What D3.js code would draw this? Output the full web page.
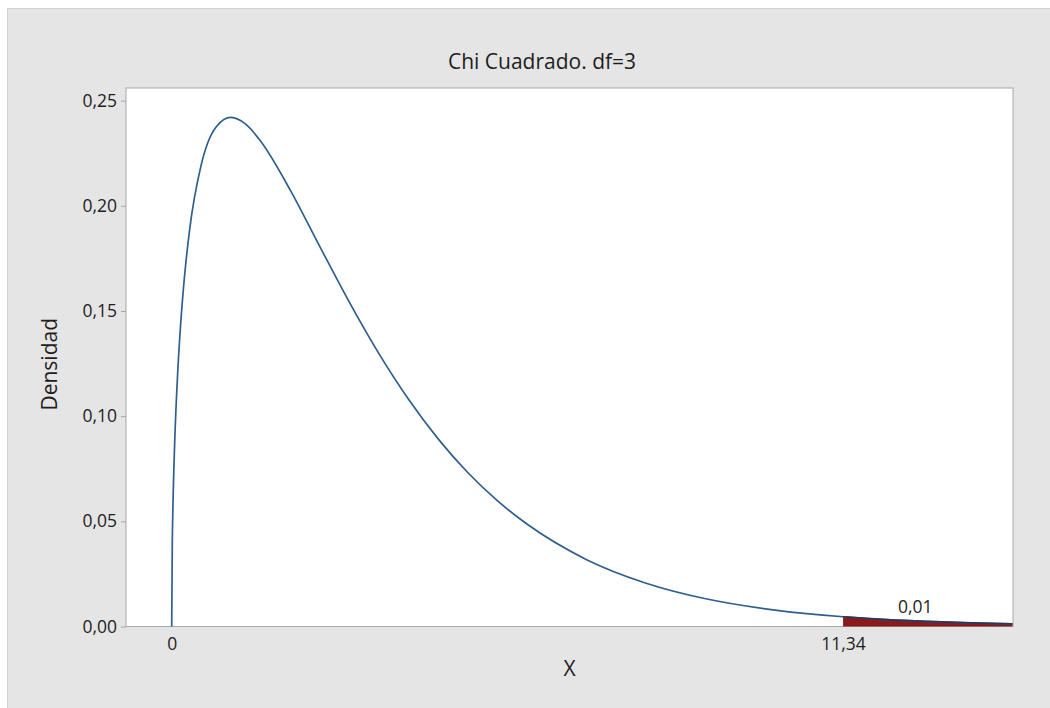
<!DOCTYPE html>
<html>
<head>
<meta charset="utf-8">
<script src="https://cdn.jsdelivr.net/npm/d3@7"></script>
<style>
  body { margin: 0; background: #fff; }
  text { font-family: "Open Sans", sans-serif; fill: #1e1e1e; }
</style>
</head>
<body>
<div id="chart"></div>
<script>
// values
const xValues = [0, 0.01, 0.02, 0.05, 0.1, 0.15, 0.2, 0.3, 0.5, 0.75, 1, 1.25, 1.5, 2, 2.5, 3, 3.5, 4, 4.5, 5, 5.5, 6, 7, 8, 9, 10, 11, 11.34, 12, 13, 14.2];
const density = [0, 0.0397, 0.0559, 0.087, 0.12, 0.1433, 0.1614, 0.1881, 0.2197, 0.2375, 0.242, 0.2388, 0.2308, 0.2076, 0.1807, 0.1542, 0.1297, 0.108, 0.0892, 0.0732, 0.0598, 0.0487, 0.0319, 0.0207, 0.0133, 0.0085, 0.0054, 0.00463, 0.00343, 0.00216, 0.00124];
const yTicks = [0, 0.05, 0.10, 0.15, 0.20, 0.25];
const xTicks = [0, 11.34];
const critical = 11.34;
const tailLabel = "0,01";

const W = 1050, H = 708;
const MARGIN = { TOP: 88, BOTTOM: 81.5, LEFT: 126, RIGHT: 37 };
const WIDTH = W - MARGIN.LEFT - MARGIN.RIGHT;
const HEIGHT = H - MARGIN.TOP - MARGIN.BOTTOM;

const comma = v => d3.format(".2f")(v).replace(".", ",");

const svg = d3.select("#chart").append("svg")
    .attr("width", W)
    .attr("height", H);

// gray panel
svg.append("rect")
    .attr("x", 7.5).attr("y", 8.5)
    .attr("width", W).attr("height", H)
    .attr("fill", "#e5e5e5")
    .attr("stroke", "#d2d2d2");

const g = svg.append("g")
    .attr("transform", `translate(${MARGIN.LEFT}, ${MARGIN.TOP})`);

const x = d3.scaleLinear().domain([-0.772, 14.21]).range([0, WIDTH]);
const y = d3.scaleLinear().domain([0, 0.256]).range([HEIGHT, 0]);

g.append("rect")
    .attr("width", WIDTH).attr("height", HEIGHT)
    .attr("fill", "#fff")
    .attr("stroke", "#a8a8a8");

const data = xValues.map((v, i) => [v, density[i]]);

// shaded tail
const tail = data.filter(d => d[0] >= critical);
const area = d3.area()
    .x(d => x(d[0]))
    .y0(HEIGHT)
    .y1(d => y(d[1]))
    .curve(d3.curveMonotoneX);
g.append("path")
    .datum(tail)
    .attr("d", area)
    .attr("fill", "#8b1a1a");

// curve
const line = d3.line()
    .x(d => x(d[0]))
    .y(d => y(d[1]))
    .curve(d3.curveMonotoneX);
g.append("path")
    .datum(data)
    .attr("d", line)
    .attr("fill", "none")
    .attr("stroke", "#2f5f8f")
    .attr("stroke-width", 1.7);

g.append("path")
    .datum(tail)
    .attr("d", line)
    .attr("fill", "none")
    .attr("stroke", "#2b3555")
    .attr("stroke-width", 1.7);

// axes
const yAxis = g.append("g")
    .call(d3.axisLeft(y).tickValues(yTicks).tickSize(5).tickPadding(4).tickFormat(comma));
yAxis.select(".domain").remove();
yAxis.selectAll("line").attr("stroke", "#a8a8a8");
yAxis.selectAll("text").style("font-size", "17.5px").attr("fill", "#1e1e1e");

const xAxis = g.append("g")
    .attr("transform", `translate(0, ${HEIGHT})`)
    .call(d3.axisBottom(x).tickValues(xTicks).tickSize(0).tickPadding(11).tickFormat(d => String(d).replace(".", ",")));
xAxis.select(".domain").remove();
xAxis.selectAll("text").style("font-size", "17.5px").attr("fill", "#1e1e1e");

// tail probability label
g.append("text")
    .attr("x", x(12.56))
    .attr("y", y(0.0062))
    .attr("text-anchor", "middle")
    .style("font-size", "17.5px")
    .text(tailLabel);

// titles
svg.append("text")
    .attr("x", 542)
    .attr("y", 69)
    .attr("text-anchor", "middle")
    .style("font-size", "21px")
    .text("Chi Cuadrado. df=3");

svg.append("text")
    .attr("x", MARGIN.LEFT + WIDTH / 2)
    .attr("y", 676)
    .attr("text-anchor", "middle")
    .style("font-size", "21px")
    .text("X");

svg.append("text")
    .attr("transform", `translate(57, ${MARGIN.TOP + HEIGHT / 2 + 7}) rotate(-90)`)
    .attr("text-anchor", "middle")
    .style("font-size", "21px")
    .text("Densidad");
</script>
</body>
</html>
